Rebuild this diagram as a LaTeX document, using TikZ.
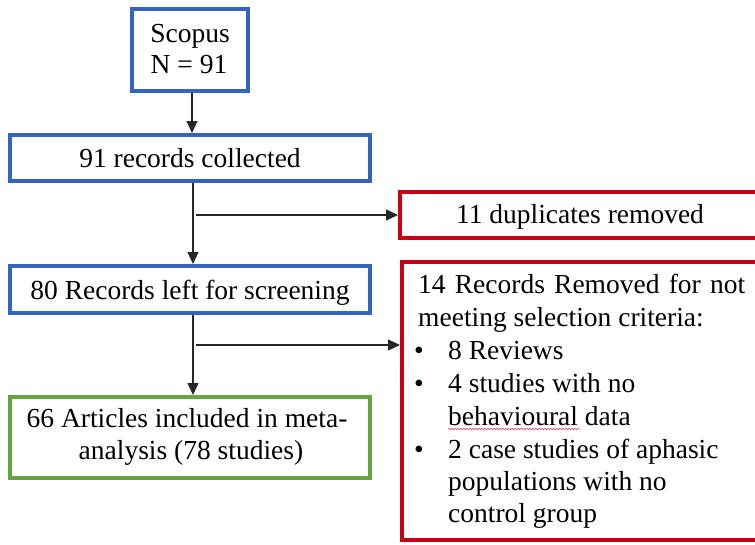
\documentclass[tikz,border=0pt]{standalone}
\usepackage{fontspec}
\setmainfont{Liberation Serif}
\usetikzlibrary{arrows.meta,decorations.pathmorphing}
\definecolor{bblue}{RGB}{52,100,190}
\definecolor{rred}{RGB}{200,0,20}
\definecolor{ggreen}{RGB}{100,165,65}
\begin{document}
\begin{tikzpicture}[x=1pt,y=-1pt,
  boxbase/.style={draw,rectangle,line width=4pt,inner sep=0pt,fill=white},
  bluebox/.style={boxbase,draw=bblue},
  redbox/.style={boxbase,draw=rred},
  greenbox/.style={boxbase,draw=ggreen},
  txt/.style={inner sep=0pt,anchor=base,font=\fontsize{27.5pt}{32.7pt}\selectfont},
  ltxt/.style={txt,anchor=base west},
  arr/.style={line width=1.1pt,draw=black!85,-{Triangle[length=12pt,width=11pt]}}
]
\useasboundingbox (0,0) rectangle (755,544);
\clip (0,0) rectangle (755,544);
\fill[white] (0,0) rectangle (755,544);

% boxes
\node[bluebox,minimum width=116pt,minimum height=82pt] (scopus) at (190,50) {};
\node[bluebox,minimum width=360pt,minimum height=46pt] (rec91) at (190,158) {};
\node[bluebox,minimum width=360pt,minimum height=47pt] (rec80) at (190,289.5) {};
\node[greenbox,minimum width=360pt,minimum height=81pt] (incl) at (190,437.5) {};
\node[redbox,minimum width=360pt,minimum height=46pt] (dup) at (580,215) {};
\node[redbox,minimum width=358pt,minimum height=278pt] (excl) at (581,401) {};

% texts
\node[txt] (t1) at (190,42) {Scopus};
\node[txt] (t2) at (189,73) {N = 91};
\node[txt] (t3) at (190,167) {91 records collected};
\node[txt] (t4) at (190,299) {80 Records left for screening};
\node[txt] (t5) at (187,427) {66 Articles included in meta-};
\node[txt] (t6) at (191,459) {analysis (78 studies)};
\node[txt] (t7) at (580,223) {11 duplicates removed};

\node[ltxt] (e1) at (418,293) {\makebox[327pt][s]{14 Records Removed for not}};
\node[ltxt] (e2) at (418,326) {meeting selection criteria:};
\node[ltxt] (b1) at (414,359) {•};
\node[ltxt] (e3) at (448,359) {8 Reviews};
\node[ltxt] (b2) at (414,392) {•};
\node[ltxt] (e4) at (448,392) {4 studies with no};
\node[ltxt] (e5) at (448,425) {behavioural data};
\node[ltxt] (b3) at (414,458) {•};
\node[ltxt] (e6) at (448,458) {2 case studies of aphasic};
\node[ltxt] (e7) at (448,490) {populations with no};
\node[ltxt] (e8) at (448,522) {control group};
\draw[rred!70,line width=0.6pt,decorate,decoration={snake,amplitude=0.8pt,segment length=3pt}]
  (448,429) -- (580,429);

% connectors
\coordinate (spine) at (193,0);
\coordinate (br1) at (196,215);
\coordinate (br2) at (196,345);
\draw[arr] ([xshift=2pt]scopus.south) -- ([xshift=2pt]scopus.south |- rec91.north);
\draw[arr] (rec91.south -| spine) -- (rec80.north -| spine);
\draw[arr] (rec80.south -| spine) -- (incl.north -| spine);
\draw[arr] (br1) -- (br1 -| dup.west);
\draw[arr] (br2) -- (br2 -| excl.west);
\end{tikzpicture}
\end{document}
